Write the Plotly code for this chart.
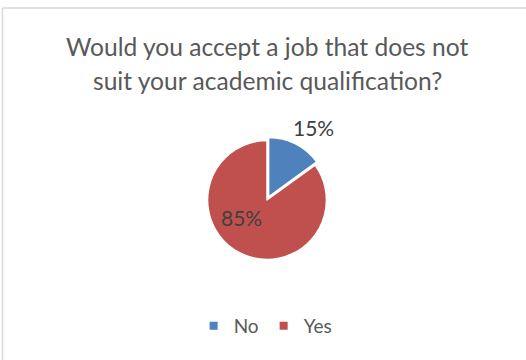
import plotly.graph_objects as go

# Survey answers
labels = ["No", "Yes"]
shares = [15, 85]
colors = ["#4F81BD", "#C0504D"]

title_lines = ["Would you accept a job that does not", "suit your academic qualification?"]

W, H = 526, 360
FONT = "Lato"

fig = go.Figure()

fig.add_trace(go.Pie(
    labels=labels,
    values=shares,
    marker=dict(colors=colors, line=dict(color="white", width=1.5)),
    sort=False,
    direction="clockwise",
    rotation=0,
    pull=[0.06, 0],
    textinfo="none",
    hoverinfo="label+percent",
    showlegend=False,
    domain=dict(x=[204 / W, 330 / W], y=[97 / H, 223 / H]),
))

# Legend entries drawn as small square markers
for lab, col in zip(labels, colors):
    fig.add_trace(go.Scatter(
        x=[None], y=[None], mode="markers", name=lab,
        marker=dict(symbol="square", size=8, color=col),
        hoverinfo="skip",
    ))

def px(x, y):
    return x / W, 1 - y / H

annotations = []
for line, ypos in zip(title_lines, [47, 80]):
    ax, ay = px(267, ypos)
    annotations.append(dict(
        text=line, x=ax, y=ay, xref="paper", yref="paper",
        xanchor="center", yanchor="middle", showarrow=False,
        font=dict(family=FONT, size=24.6, color="#595959"),
    ))

# Percentage labels
total = sum(shares)
label_pos = [(313, 127), (241, 217)]
for v, (lx, ly) in zip(shares, label_pos):
    ax, ay = px(lx, ly)
    annotations.append(dict(
        text=f"{round(100 * v / total)}%", x=ax, y=ay, xref="paper", yref="paper",
        xanchor="center", yanchor="middle", showarrow=False,
        font=dict(family=FONT, size=21, color="#404040"),
    ))

shapes = [
    dict(type="line", xref="paper", yref="paper", x0=2.5 / W, x1=1, y0=1 - 8 / H, y1=1 - 8 / H,
         line=dict(color="#D9D9D9", width=1.5)),
    dict(type="line", xref="paper", yref="paper", x0=2.5 / W, x1=2.5 / W, y0=0, y1=1 - 8 / H,
         line=dict(color="#D9D9D9", width=1.5)),
]

fig.update_layout(
    width=W, height=H,
    margin=dict(l=0, r=0, t=0, b=0),
    paper_bgcolor="white", plot_bgcolor="white",
    xaxis=dict(visible=False), yaxis=dict(visible=False),
    annotations=annotations,
    shapes=shapes,
    showlegend=True,
    legend=dict(
        orientation="h", x=0.505, xanchor="center", y=1 - 326 / H, yanchor="middle",
        font=dict(family=FONT, size=19, color="#595959"),
        itemwidth=30, tracegroupgap=0,
    ),
)

fig.write_html("out.html")
